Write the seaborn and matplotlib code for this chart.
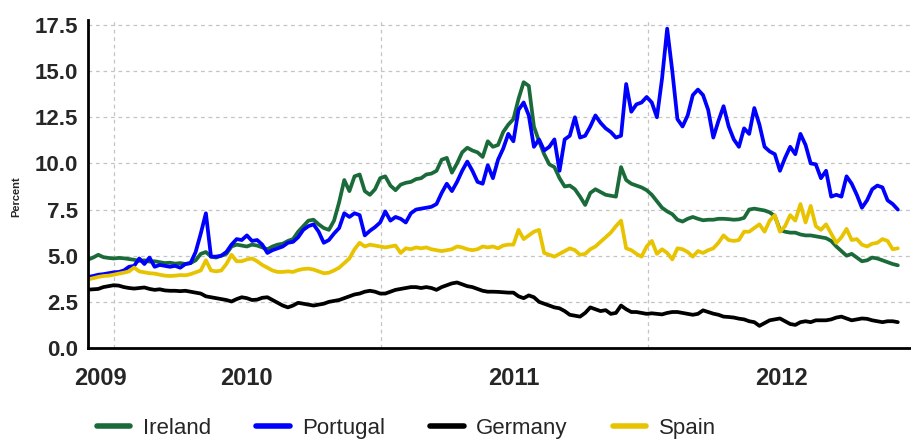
import pandas as pd
import matplotlib
matplotlib.use("Agg")
import matplotlib.pyplot as plt
import seaborn as sns

# weekly 10-year government bond yields, percent
ireland = [4.79, 4.9, 5.05, 4.92, 4.88, 4.85, 4.88, 4.86, 4.82, 4.78, 4.72, 4.75, 4.68, 4.7, 4.65, 4.6, 4.62, 4.57,
           4.6, 4.55, 4.6, 4.75, 5.1, 5.2, 4.95, 4.9, 5.0, 5.1, 5.5, 5.6, 5.55, 5.5, 5.6, 5.55, 5.45, 5.35, 5.5, 5.6,
           5.65, 5.8, 5.9,
           6.3, 6.6, 6.9, 6.95, 6.7, 6.5, 6.4, 6.9, 7.9, 9.1, 8.5, 9.3, 9.4, 8.5, 8.3, 8.6, 9.2, 9.3, 8.8, 8.55, 8.85,
           8.95, 9.0, 9.15, 9.2, 9.4, 9.45, 9.6, 10.2, 10.3, 9.5, 10.0, 10.6, 10.85, 10.7, 10.6, 10.35, 11.2, 10.9,
           11.0, 11.7, 12.1, 12.4, 13.5, 14.4, 14.2, 12.0, 11.2, 10.5, 9.95, 9.8, 9.2, 8.75, 8.8, 8.6, 8.2, 7.75, 8.4,
           8.6, 8.45, 8.3, 8.25, 8.2, 9.8, 9.1, 8.9, 8.8, 8.7, 8.55, 8.3, 7.95, 7.6, 7.4, 7.25, 6.95, 6.85, 7.0, 7.1,
           7.0,
           6.92, 6.95, 6.95, 7.0, 7.0, 6.98, 6.95, 6.97, 7.05, 7.5, 7.55, 7.5, 7.45, 7.35, 7.15, 6.4, 6.3, 6.25, 6.25,
           6.15, 6.1, 6.1, 6.05, 6.0, 5.95, 5.8, 5.5, 5.25, 5.0, 5.1, 4.9, 4.7, 4.75, 4.9, 4.85, 4.75, 4.65, 4.55, 4.48]
portugal = [3.85, 3.9, 3.97, 4.0, 4.05, 4.1, 4.12, 4.2, 4.4, 4.45, 4.85, 4.55, 4.9, 4.4, 4.5, 4.45, 4.4, 4.45, 4.35,
            4.55, 4.6, 5.2, 6.2, 7.3, 4.95, 4.95, 5.0, 5.2, 5.6, 5.9, 5.85, 6.1, 5.8, 5.85, 5.6, 5.15, 5.3, 5.4, 5.5,
            5.7, 5.75,
            6.0, 6.4, 6.6, 6.7, 6.3, 5.7, 5.85, 6.2, 6.5, 7.3, 7.1, 7.3, 7.2, 6.1, 6.35, 6.55, 6.8, 7.4, 6.9, 7.1,
            7.0, 6.8, 7.3, 7.5, 7.55, 7.6, 7.65, 7.8, 8.4, 8.9, 8.5, 9.0, 9.6, 10.1, 9.6, 9.0, 8.9, 9.9, 9.2,
            10.2, 10.8, 11.6, 11.2, 12.9, 13.3, 12.6, 10.9, 11.3, 10.7, 10.9, 11.3, 9.6, 11.3, 11.5, 12.5, 11.4, 11.5,
            12.0, 12.6, 12.2, 11.9, 11.7, 11.4, 11.5, 14.3, 12.8, 13.2, 13.3, 13.6, 13.3, 12.5, 14.6, 17.3, 15.0,
            12.4, 12.0, 12.6, 13.7, 14.0,
            13.7, 12.9, 11.4, 12.3, 13.1, 12.0, 11.3, 10.9, 11.9, 11.6, 13.0, 12.1, 10.9, 10.65, 10.5, 9.6, 10.3,
            10.9, 10.5, 11.6, 11.0, 10.0, 9.95, 9.2, 9.6, 8.2, 8.3, 8.2, 9.3, 8.9, 8.3, 7.6, 8.0, 8.6, 8.8, 8.7, 8.0,
            7.8, 7.5]
germany = [3.16, 3.18, 3.2, 3.3, 3.35, 3.4, 3.38, 3.3, 3.25, 3.22, 3.25, 3.28, 3.2, 3.15, 3.18, 3.12, 3.1, 3.1, 3.08,
           3.1, 3.05, 3.0, 2.95, 2.8, 2.75, 2.7, 2.65, 2.6, 2.52, 2.65, 2.75, 2.7, 2.6, 2.62, 2.72, 2.75, 2.6, 2.45,
           2.3, 2.2, 2.3,
           2.45, 2.4, 2.35, 2.3, 2.35, 2.4, 2.5, 2.55, 2.6, 2.7, 2.8, 2.9, 2.95, 3.05, 3.1, 3.05, 2.95, 2.95, 3.05,
           3.15, 3.2, 3.25, 3.3, 3.3, 3.25, 3.3, 3.25, 3.15, 3.3, 3.4, 3.5, 3.55, 3.45, 3.35, 3.3, 3.2, 3.1, 3.05,
           3.05,
           3.04, 3.02, 3.0, 3.0, 2.8, 2.7, 2.85, 2.75, 2.5, 2.4, 2.3, 2.2, 2.15, 2.0, 1.8, 1.75, 1.7, 1.9, 2.2, 2.1,
           2.0, 2.05, 1.85, 1.9, 2.3, 2.1, 1.95, 1.95, 1.9, 1.85, 1.88, 1.85, 1.82, 1.9, 1.95, 1.95, 1.9, 1.85, 1.8,
           1.85,
           2.04, 1.95, 1.86, 1.8, 1.7, 1.68, 1.65, 1.59, 1.55, 1.45, 1.4, 1.2, 1.35, 1.5, 1.55, 1.6, 1.45, 1.3, 1.25,
           1.4, 1.45, 1.4, 1.5, 1.5, 1.5, 1.55, 1.65, 1.7, 1.6, 1.5, 1.55, 1.6, 1.58, 1.5, 1.45, 1.4, 1.45, 1.45, 1.4]
spain = [3.72, 3.78, 3.85, 3.9, 3.92, 3.97, 4.03, 4.08, 4.15, 4.36, 4.15, 4.1, 4.05, 4.03, 3.97, 3.92, 3.9, 3.92, 3.95,
         3.94, 4.0, 4.1, 4.2, 4.75, 4.2, 4.15, 4.2, 4.55, 5.05, 4.7, 4.7, 4.8, 4.85, 4.7, 4.5, 4.35, 4.2, 4.12, 4.12,
         4.15, 4.12,
         4.22, 4.28, 4.3, 4.25, 4.15, 4.05, 4.08, 4.2, 4.35, 4.6, 4.85, 5.35, 5.7, 5.5, 5.6, 5.55, 5.5, 5.45, 5.5,
         5.55, 5.15, 5.4, 5.35, 5.45, 5.4, 5.45, 5.35, 5.3, 5.25, 5.3, 5.35, 5.5, 5.45, 5.35, 5.3, 5.35, 5.5, 5.45,
         5.5,
         5.4, 5.55, 5.6, 5.6, 6.4, 5.9, 6.1, 6.3, 6.4, 5.15, 5.05, 4.95, 5.1, 5.25, 5.4, 5.3, 5.05, 5.1, 5.35, 5.5,
         5.75, 6.0, 6.25, 6.6, 6.9, 5.4, 5.3, 5.1, 4.95, 5.5, 5.8, 5.1, 5.35, 5.15, 4.8, 5.4, 5.35, 5.2, 4.95, 5.25,
         5.15, 5.3, 5.4, 5.7, 6.1, 5.85, 5.8, 5.85, 6.3, 6.3, 6.5, 6.7, 6.3, 6.9, 7.2, 6.3, 6.6, 7.2, 6.9, 7.8, 6.8,
         7.7, 6.6, 6.4, 6.7, 6.2, 5.7, 6.0, 6.45, 5.85, 5.9, 5.6, 5.5, 5.65, 5.7, 5.9, 5.8, 5.35, 5.4]

countries = ["Ireland", "Portugal", "Germany", "Spain"]
colors = {"Ireland": "#1b6b3a", "Portugal": "#0000ff", "Germany": "#000000", "Spain": "#e8c300"}
dates = pd.date_range("2009-11-27", periods=len(ireland), freq="7D")

df = pd.DataFrame({"date": dates, "Ireland": ireland, "Portugal": portugal,
                   "Germany": germany, "Spain": spain})
long = df.melt(id_vars="date", var_name="country", value_name="yield")

sns.set_style("white")
plt.rcParams["font.family"] = ["Liberation Sans", "DejaVu Sans"]

fig = plt.figure(figsize=(9.11, 4.41), dpi=100)
ax = fig.add_axes([88 / 911, 93 / 441, 823 / 911, 328 / 441])

sns.lineplot(data=long, x="date", y="yield", hue="country", hue_order=countries,
             palette=colors, linewidth=2.7, ax=ax)

ax.set_xlim(pd.Timestamp("2009-11-27"), pd.Timestamp("2012-12-25"))
ax.set_ylim(0, 17.77)
ax.set_yticks([0, 2.5, 5, 7.5, 10, 12.5, 15, 17.5])
ax.set_yticklabels(["%.1f" % v for v in ax.get_yticks()], fontsize=16, fontweight="bold")
ax.tick_params(axis="y", length=0, pad=7)

# year labels sit in the middle of each year, tick marks at year boundaries
label_pos = pd.to_datetime(["2009-12-14", "2010-07-02", "2011-07-02", "2012-07-01"])
ax.set_xticks(label_pos)
ax.set_xticklabels(["2009", "2010", "2011", "2012"], fontsize=17, fontweight="bold")
ax.set_xticks(pd.to_datetime(["2010-01-01", "2011-01-01", "2012-01-01"]), minor=True)
ax.tick_params(axis="x", which="major", length=0, pad=14)
ax.tick_params(axis="x", which="minor", length=4, width=1.5, color="black", direction="out")

ax.grid(False)
ax.yaxis.grid(True, linestyle=(0, (3, 3)), color="#c4c4c4", linewidth=0.9)
ax.xaxis.grid(True, which="minor", linestyle=(0, (3, 3)), color="#c4c4c4", linewidth=0.9)
ax.set_axisbelow(True)

ax.set_xlabel("")
ax.set_ylabel("Percent", fontsize=8, fontweight="bold")
ax.yaxis.set_label_coords(-0.081, 0.46)

for side in ["top", "right"]:
    ax.spines[side].set_visible(False)
for side in ["left", "bottom"]:
    ax.spines[side].set_linewidth(2)
    ax.spines[side].set_color("black")

sns.move_legend(ax, "center left", bbox_to_anchor=(-0.008, -0.245), ncol=4, frameon=False,
                title=None, fontsize=16, handlelength=1.5, handletextpad=0.55, columnspacing=2.05,
                borderpad=0.2)
for line in ax.get_legend().get_lines():
    line.set_linewidth(4)

fig.savefig("out.png", dpi=100)
